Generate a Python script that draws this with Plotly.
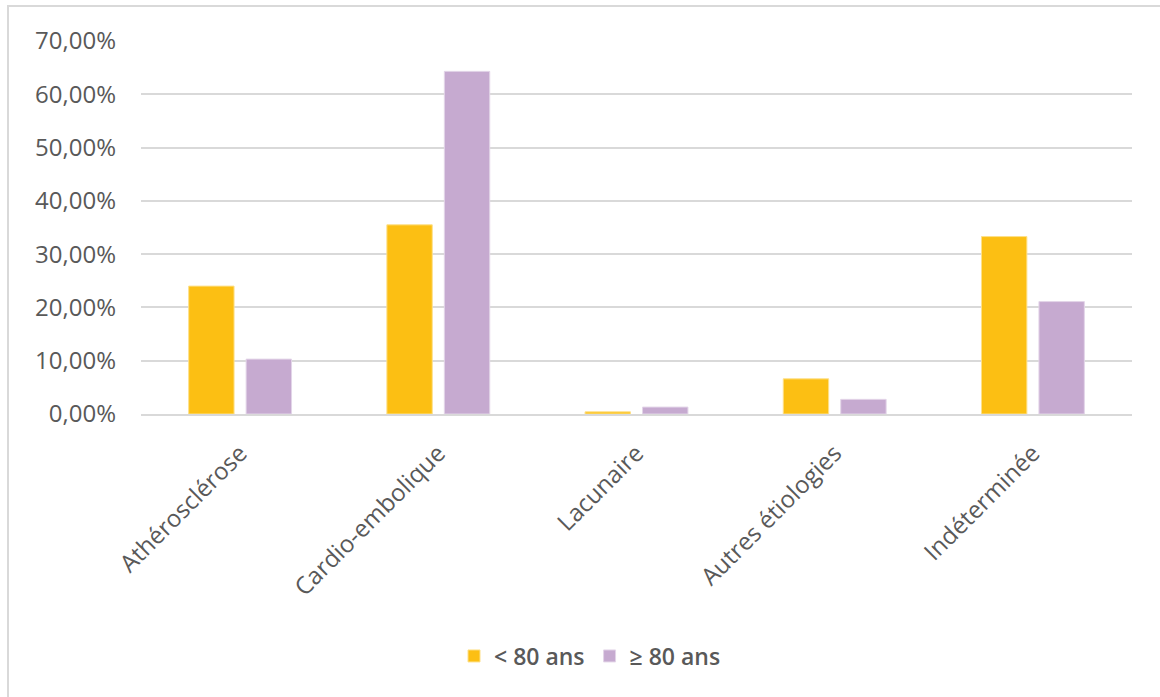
import plotly.graph_objects as go

categories = ["Athérosclérose", "Cardio-embolique", "Lacunaire", "Autres étiologies", "Indéterminée"]
under_80 = [0.240, 0.355, 0.004, 0.066, 0.333]
over_80 = [0.103, 0.643, 0.013, 0.0275, 0.211]
series_names = ["< 80 ans", "≥ 80 ans"]
y_ticks = [0, 0.1, 0.2, 0.3, 0.4, 0.5, 0.6, 0.7]
y_tick_labels = ["0,00%", "10,00%", "20,00%", "30,00%", "40,00%", "50,00%", "60,00%", "70,00%"]

W, H = 1160, 697
L, R, T, B = 141, 28, 41, 283
pw, ph = W - L - R, H - T - B

def px(x):
    return (x - L) / pw

def py(y):
    return (H - B - y) / ph

fig = go.Figure()
fig.add_trace(go.Bar(x=categories, y=under_80, name=series_names[0],
                     marker=dict(color="#FCBF13", line=dict(color="#FDE08A", width=1))))
fig.add_trace(go.Bar(x=categories, y=over_80, name=series_names[1],
                     marker=dict(color="#C6AAD0", line=dict(color="#E3D5E8", width=1))))

fig.update_layout(
    width=W, height=H,
    margin=dict(l=L, r=R, t=T, b=B),
    paper_bgcolor="white", plot_bgcolor="white",
    barmode="group", bargap=0.42, bargroupgap=0.21,
    font=dict(family="Open Sans", color="#595959", size=24),
    legend=dict(orientation="h", x=px(590), y=py(656), xanchor="center", yanchor="middle",
                font=dict(size=23, color="#595959", weight=600), itemwidth=30,
                traceorder="normal"),
    showlegend=True,
)
fig.update_yaxes(range=[0, 0.7], tickvals=y_ticks, ticktext=y_tick_labels,
                 showgrid=True, gridcolor="#D9D9D9", gridwidth=1.5,
                 zeroline=False, showline=False, ticks="", ticklabelstandoff=24,
                 tickfont=dict(size=24, color="#595959"))
fig.update_xaxes(showgrid=False, showline=True, linecolor="#D9D9D9", linewidth=1.5,
                 tickangle=-45, ticks="", ticklabelstandoff=14,
                 tickfont=dict(size=24, color="#595959"))

fig.add_shape(type="rect", xref="paper", yref="paper",
              x0=px(8), x1=px(1175), y0=py(715), y1=py(6),
              line=dict(color="#D9D9D9", width=2), fillcolor="rgba(0,0,0,0)", layer="below")

fig.write_html("out.html")
